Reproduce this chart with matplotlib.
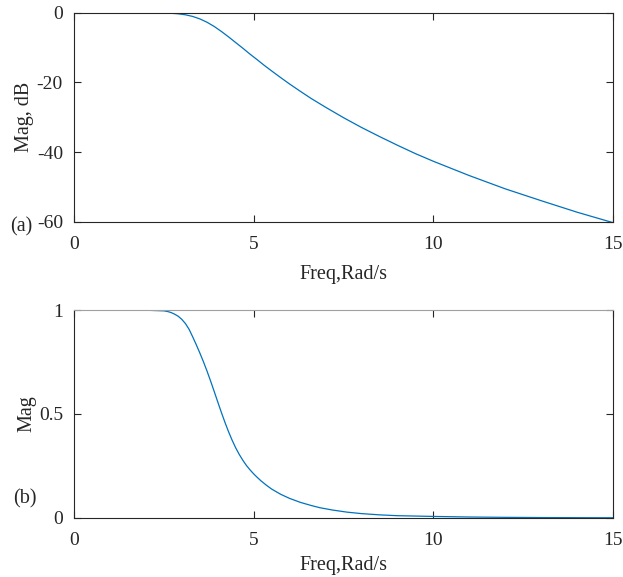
import matplotlib
matplotlib.use("Agg")
import matplotlib.pyplot as plt

# panel (a): magnitude in dB
freq_db = [0, 1, 2, 2.5, 2.7, 2.9, 3.1, 3.3, 3.5, 3.7, 3.9, 4.1, 4.3, 4.5, 4.7,
           4.9, 5.1, 5.3, 5.5, 5.75, 6.0, 6.3, 6.6, 7.0, 7.5, 8.0, 8.5, 9.0,
           9.5, 10, 11, 12, 13, 14, 15]
mag_db = [0, 0, -0.01, -0.07, -0.16, -0.32, -0.6, -1.07, -1.77, -2.73, -3.94,
          -5.37, -6.93, -8.57, -10.2, -11.9, -13.5, -15.15, -16.7, -18.6, -20.45,
          -22.55, -24.6, -27.1, -30.1, -32.9, -35.5, -38.0, -40.4, -42.6, -46.7,
          -50.5, -53.9, -57.2, -60.2]

# panel (b): linear magnitude
freq_lin = [0, 1, 2, 2.5, 2.6, 2.7, 2.8, 2.9, 3.0, 3.1, 3.2, 3.3, 3.4, 3.5, 3.6,
            3.7, 3.8, 3.9, 4.0, 4.1, 4.2, 4.3, 4.4, 4.5, 4.6, 4.7, 4.8, 4.9,
            5.0, 5.1, 5.2, 5.35, 5.5, 5.75, 6.0, 6.3, 6.6, 6.85, 7.2, 7.6, 8.0,
            8.5, 9.0, 10, 11, 12, 13, 14, 15]
mag_lin = [1.0, 1.0, 0.999, 0.996, 0.993, 0.988, 0.980, 0.970, 0.955, 0.935,
           0.908, 0.872, 0.834, 0.794, 0.752, 0.707, 0.659, 0.609, 0.558, 0.508,
           0.460, 0.415, 0.374, 0.337, 0.305, 0.277, 0.252, 0.231, 0.212, 0.195,
           0.179, 0.158, 0.139, 0.114, 0.094, 0.075, 0.06, 0.049, 0.038, 0.028,
           0.021, 0.015, 0.011, 0.0074, 0.0046, 0.003, 0.002, 0.0014, 0.001]

plt.rcParams['font.family'] = ['Liberation Serif', 'DejaVu Serif']
plt.rcParams['font.size'] = 14
dark = '#262626'
blue = '#0072BD'

fig = plt.figure(figsize=(6.23, 5.77), dpi=100)
ax1 = fig.add_axes([0.1188, 0.6153, 0.8652, 0.3627])
ax2 = fig.add_axes([0.1188, 0.1023, 0.8652, 0.3604])

def style(ax, lpad):
    ax.tick_params(direction='in', length=5, width=0.8, colors=dark,
                   top=True, right=True, labelsize=14)
    ax.tick_params(axis='x', pad=10)
    ax.tick_params(axis='y', pad=8)
    for s in ax.spines.values():
        s.set_color(dark)
        s.set_linewidth(0.8)
    ax.set_xlim(0, 15)
    ax.set_xticks([0, 5, 10, 15])
    ax.set_xlabel("Freq,Rad/s", fontsize=14.5, color=dark, labelpad=lpad)

ax1.plot(freq_db, mag_db, color=blue, lw=0.9)
style(ax1, 9)
ax1.set_ylim(-60, 0)
ax1.set_yticks([-60, -40, -20, 0])
ax1.set_yticklabels(['-60', '-40', '-20', '0'])
ax1.set_ylabel("Mag, dB", fontsize=14.5, color=dark, labelpad=2)

ax2.plot(freq_lin, mag_lin, color=blue, lw=0.9)
style(ax2, 5)
ax2.spines['top'].set_color('#a0a0a0')
ax2.set_ylim(0, 1)
ax2.set_yticks([0, 0.5, 1])
ax2.set_yticklabels(['0', '0.5', '1'])
ax2.set_ylabel("Mag", fontsize=14.5, color=dark, labelpad=2)

fig.text(21 / 623, 1 - 227 / 577, "(a)", fontsize=14.5, color=dark,
         ha='center', va='center')
fig.text(25 / 623, 1 - 499 / 577, "(b)", fontsize=14.5, color=dark,
         ha='center', va='center')

fig.savefig("out.png", dpi=100)
